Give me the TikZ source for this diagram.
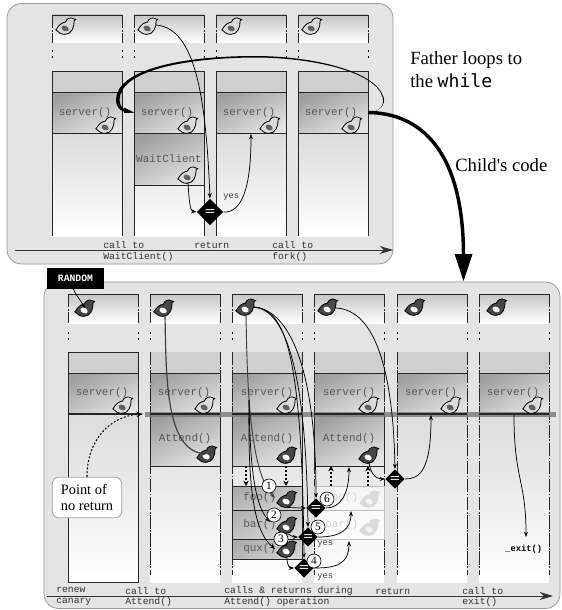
\documentclass[tikz,border=0pt]{standalone}
\usepackage{fontspec}
\setmainfont{Liberation Serif}
\setmonofont{Liberation Mono}
\newfontfamily\whilefont{DejaVu Sans Mono}
\usetikzlibrary{shapes.geometric,arrows.meta}
\definecolor{panelc}{HTML}{E4E4E4}
\tikzset{
  panel/.style={fill=panelc,draw=gray!80!white,line width=0.6pt,rounded corners=11pt},
  sideline/.style={draw=black!85,line width=0.6pt,dash pattern=on 10pt off 1.2pt on 1.2pt off 1.2pt},
  solidline/.style={draw=black!85,line width=0.6pt},
  dotline/.style={draw=black,line width=0.6pt,dash pattern=on 1.5pt off 3pt},
  topbox/.style={top color=gray!45,bottom color=white},
  lowgrad/.style={top color=gray!28,bottom color=white},
  band/.style={fill=gray!38},
  frameA/.style={top color=gray!75,bottom color=gray!22,shading angle=25},
  fn/.style={font=\ttfamily\fontsize{8.2}{9}\selectfont,text=black!65,inner sep=0pt},
  lab/.style={font=\ttfamily\fontsize{7.3}{8}\selectfont,text=black!80,inner sep=0pt,anchor=west},
  small/.style={font=\ttfamily\fontsize{6.6}{7}\selectfont,text=black!75,inner sep=0pt,anchor=west},
  big/.style={font=\fontsize{14}{16}\selectfont,inner sep=0pt,anchor=west},
  cond/.style={diamond,fill=black,text=white,inner sep=0pt,font=\sffamily\bfseries\fontsize{9}{9}\selectfont},
  numc/.style={circle,draw=black,fill=white,line width=0.5pt,inner sep=0pt,minimum size=10.5pt,font=\fontsize{8.5}{9}\selectfont},
  flow/.style={draw=black,line width=0.55pt,-{Stealth[length=4pt,width=3pt]}},
  flowdark/.style={draw=black!75,line width=0.9pt,-{Stealth[length=4pt,width=3pt]}},
  dotarrow/.style={draw=black,line width=1.4pt,dash pattern=on 1.6pt off 1.4pt,-{Stealth[length=4pt,width=4pt]}},
  timehead/.style={draw=black!80,line width=0.7pt,-{Stealth[length=10pt,width=6pt]}},
}
\newcommand\birdat[6]{%
  \coordinate (#1) at (#2,#3);
  \begin{scope}[shift={(#2,#3)},scale=1.12]
    \path[fill=#4,draw=#6,line width=0.6pt] (-9,3.5) .. controls (-6,-2) and (-3,-3) .. (-0.5,-3.5)
      .. controls (0.5,-7) and (4.5,-8) .. (6.5,-6.5) -- (8.6,-5.8) -- (7.2,-4.6)
      .. controls (7.5,1) and (5,7.5) .. (-1,7.5) .. controls (-4.5,7.5) and (-7,5.5) .. cycle;
    \path[fill=#5,rotate around={-25:(-0.8,2.2)}] (-0.8,2.2) ellipse (3.4 and 2.4);
  \end{scope}}
\newcommand\lbird[3]{\birdat{#1}{#2}{#3}{gray!28}{black!62}{black}}
\newcommand\dbird[3]{\birdat{#1}{#2}{#3}{black!72}{white}{black}}
\newcommand\gbird[3]{\birdat{#1}{#2}{#3}{gray!28}{gray!8}{gray!28}}
\begin{document}
\begin{tikzpicture}[x=0.75pt,y=-0.75pt]
\useasboundingbox (0,0) rectangle (561,610);
\fill[white] (0,0) rectangle (561,610);

% ---------- upper panel
\path[panel] (7,3.5) rectangle (393,264);
\foreach \x in {52,134,216,298}{
  \path[topbox] (\x,15) rectangle (\x+70,43);
  \draw[solidline] (\x,15) -- (\x+70,15);
  \draw[sideline] (\x,15) -- (\x,43);
  \draw[sideline] (\x+70,15) -- (\x+70,43);
  \draw[dotline] (\x,50) -- (\x,62);
  \draw[dotline] (\x+70,50) -- (\x+70,62);
  \path[lowgrad] (\x,133) rectangle (\x+70,236);
  \path[band] (\x,71) rectangle (\x+70,92);
  \path[frameA] (\x,92) rectangle (\x+70,133);
  \draw[solidline] (\x,92) -- (\x+70,92) (\x,133) -- (\x+70,133);
  \draw[solidline] (\x,71) -- (\x+70,71);
  \draw[solidline] (\x,71) -- (\x,236) (\x+70,71) -- (\x+70,236);
}
\path[frameA,draw=black!85,line width=0.6pt] (134,133) rectangle (204,185);
\node[fn] (su1) at (85,113) {server()};
\node[fn] (su2) at (167,113) {server()};
\node[fn] (su3) at (249,113) {server()};
\node[fn] (su4) at (331,113) {server()};
\node[fn] (wc) at (169,159) {WaitClient};
\lbird{ut1}{66}{26}\lbird{ut2}{148}{26}\lbird{ut3}{232}{26}\lbird{ut4}{312}{26}
\lbird{us1}{106}{125}\lbird{us2}{188}{125}\lbird{us3}{270}{125}\lbird{us4}{352}{125}
\lbird{uw}{188}{175}
\node[cond,minimum width=20pt,minimum height=20pt] (du) at (210,212) {=};
\coordinate (retu) at (251,134);
\draw[flow] (156,25) .. controls (196,28) and (206,100) .. (du.north);
\draw[flow] (188,182) .. controls (189,200) and (190,211) .. (du.west);
\draw[flow] (du.east) .. controls (241,213) and (251,190) .. (retu);
\node[small] (yu) at (223,197) {yes};
% time axis upper
\coordinate (ta0) at (15,250);
\coordinate (ta1) at (393,250);
\draw[timehead] (ta0) -- (ta1);
\node[lab] (u1) at (103,245) {call to};
\node[lab] (u2) at (103,257) {WaitClient()};
\node[lab] (u3) at (194,245) {return};
\node[lab] (u4) at (272,245) {call to};
\node[lab] (u5) at (272,257) {fork()};

% ---------- lower panel
\path[panel] (44,282) rectangle (560,608.5);
\node[fill=black,text=white,font=\ttfamily\bfseries\fontsize{7.3}{8}\selectfont,minimum width=42.5pt,minimum height=15.5pt,inner sep=0pt] (rnd) at (75.5,278.5) {RANDOM};
\foreach \x in {68,150,232,314,397,479}{
  \path[topbox] (\x,294) rectangle (\x+70,323);
  \draw[solidline] (\x,294) -- (\x+70,294);
  \draw[sideline] (\x,294) -- (\x,323);
  \draw[sideline] (\x+70,294) -- (\x+70,323);
  \draw[dotline] (\x,332) -- (\x,343);
  \draw[dotline] (\x+70,332) -- (\x+70,343);
  \path[lowgrad] (\x,414) rectangle (\x+70,582);
  \path[band] (\x,352) rectangle (\x+70,373);
  \path[frameA] (\x,373) rectangle (\x+70,414);
  \draw[solidline] (\x,373) -- (\x+70,373);
  \draw[sideline] (\x,352) -- (\x,575);
  \draw[sideline] (\x+70,352) -- (\x+70,575);
}
% first column has a full outline
\draw[solidline] (68,352) rectangle (138,582);
\draw[solidline] (68,373) -- (138,373);
% frames
\foreach \x in {150,232,314}{
  \path[frameA,draw=black!85,line width=0.6pt] (\x,414) rectangle (\x+70,466);
}
\path[top color=gray!65,bottom color=gray!35,shading angle=25,draw=black!85,line width=0.6pt] (232,486) rectangle (302,510);
\path[top color=gray!60,bottom color=gray!30,shading angle=25,draw=black!85,line width=0.6pt] (232,510) rectangle (302,539);
\path[top color=gray!65,bottom color=gray!35,shading angle=25,draw=black!85,line width=0.6pt] (232,539) rectangle (302,559);
\path[fill=white,fill opacity=0.55,draw=gray!50,line width=0.5pt] (314,486) rectangle (384,510);
\path[fill=white,fill opacity=0.7,draw=gray!50,line width=0.5pt] (314,510) rectangle (384,539);
% bar of no return
\fill[black!50,fill opacity=0.85] (145,412) rectangle (556,417);
\foreach \x in {68,150,232,314,397,479}{
  \draw[draw=black!85,line width=1.1pt] (\x,414) -- (\x+70,414);
}
\node[fn] (sl1) at (102,393) {server()};
\node[fn] (sl2) at (184,393) {server()};
\node[fn] (sl3) at (267,393) {server()};
\node[fn] (sl4) at (349,393) {server()};
\node[fn] (sl5) at (431,393) {server()};
\node[fn] (sl6) at (513,393) {server()};
\node[fn] (at2) at (185,439) {Attend()};
\node[fn] (at3) at (267,439) {Attend()};
\node[fn] (at4) at (349,439) {Attend()};
\node[fn,anchor=west] (foo) at (243,498) {foo()};
\node[fn,anchor=west] (bar) at (243,525) {bar()};
\node[fn,anchor=west] (qux) at (243,549) {qux()};
\node[fn,anchor=west,text=black!18] (foog) at (325,498) {foo()};
\node[fn,anchor=west,text=black!18] (barg) at (325,525) {bar()};
% birds
\dbird{lt1}{85}{308}\dbird{lt2}{164}{308}\dbird{lt3}{246}{307}\dbird{lt4}{328}{307}\dbird{lt5}{415}{307}\dbird{lt6}{497}{307}
\lbird{ls1}{123}{405}\lbird{ls2}{205}{405}\lbird{ls3}{287}{405}\lbird{ls4}{369}{405}\lbird{ls5}{451}{405}\lbird{ls6}{533}{405}
\dbird{la2}{207}{454}\dbird{la3}{287}{455}\dbird{la4}{369}{455}
\dbird{lf}{287}{499}\dbird{lb}{287}{525}\dbird{lq}{287}{549}
\gbird{gf}{370}{499}\gbird{gb}{370}{527}
% dotted
\coordinate (da1) at (246,466);\coordinate (da2) at (246,486);
\coordinate (db1) at (286,466);\coordinate (db2) at (286,486);
\coordinate (dc1) at (331,486);\coordinate (dc2) at (331,466);
\coordinate (dd1) at (368,486);\coordinate (dd2) at (368,466);
\draw[dotarrow] (da1) -- (da2);
\draw[dotarrow] (db1) -- (db2);
\draw[dotarrow] (dc1) -- (dc2);
\draw[dotarrow] (dd1) -- (dd2);
% decision nodes
\node[cond,minimum width=14.5pt,minimum height=14.5pt] (d6) at (316,508) {=};
\node[cond,minimum width=14.5pt,minimum height=14.5pt] (d5) at (308,537) {=};
\node[cond,minimum width=14.5pt,minimum height=14.5pt] (d4) at (304,568) {=};
\node[cond,minimum width=14.5pt,minimum height=14.5pt] (d7) at (395,479) {=};
% flows
\draw[flow] (rnd.south) ++(-2,0) .. controls (77,297) and (79,298) .. (lt1);
\draw[flowdark] (165,313) .. controls (166,380) and (166,450) .. (la2);
\coordinate (ls6a) at (514,415);\coordinate (ex) at (526,537);
\draw[flow] (ls6a) .. controls (514,480) and (526,480) .. (ex);
\draw[flowdark,line width=0.7pt] (246,313) .. controls (247,370) and (248,470) .. (275,498);
\draw[flow] (249,400) .. controls (250,470) and (255,505) .. (270,522);
\draw[flow] (249,400) .. controls (248,480) and (252,530) .. (275,549);
\draw[flow] (254,307) .. controls (285,310) and (302,350) .. (d4.north);
\draw[flow] (254,307) .. controls (283,310) and (306,360) .. (d5.north);
\draw[flow] (254,307) .. controls (290,310) and (316,370) .. (d6.north);
\draw[flow] (336,308) .. controls (375,310) and (393,370) .. (d7.north);
\draw[flow] (lf) ++(0,9) .. controls (287,507) and (295,508) .. (d6.west);
\draw[flow] (lb) ++(0,9) .. controls (288,533) and (292,537) .. (d5.west);
\draw[flow] (lq) ++(0,9) .. controls (287,566) and (290,568) .. (d4.west);
\coordinate (r6) at (349,467);\coordinate (r5) at (351,511);\coordinate (r4) at (349,541);\coordinate (r7) at (431,415);
\draw[flow] (d6.east) .. controls (340,508) and (349,495) .. (r6);
\draw[flow] (d5.east) .. controls (340,537) and (351,530) .. (r5);
\draw[flow] (d4.east) .. controls (335,568) and (349,565) .. (r4);
\draw[flow] (d7.east) .. controls (420,479) and (431,470) .. (r7);
\draw[flow] (369,462) .. controls (370,472) and (375,479) .. (d7.west);
\node[small] (y5) at (317,544) {yes};
\node[small] (y4) at (317,577) {yes};
\node[numc] (n1) at (269,486) {1};
\node[numc] (n2) at (274,515) {2};
\node[numc] (n3) at (281,539) {3};
\node[numc] (n4) at (314,561) {4};
\node[numc] (n5) at (318,527) {5};
\node[numc] (n6) at (327,499) {6};
% point of no return
\node[draw=gray!70,fill=white,rounded corners=5pt,line width=0.6pt,minimum width=52pt,minimum height=30.5pt,align=left,inner sep=0pt,font=\fontsize{10.8}{12.4}\selectfont] (pnr) at (87,497.5) {Point of\\no return};
\coordinate (pnrend) at (143,414);
\draw[draw=black,line width=0.8pt,dash pattern=on 1.4pt off 1.4pt,-{Stealth[length=5pt,width=4pt]}] (pnr.north) .. controls (87,440) and (110,416) .. (pnrend);
\node[font=\ttfamily\bfseries\fontsize{6.6}{7}\selectfont,text=black,inner sep=0pt,anchor=west] (ex2) at (505,549) {\_exit()};
% time axis lower
\coordinate (tb0) at (47,596);
\coordinate (tb1) at (553,596);
\draw[timehead] (tb0) -- (tb1);
\node[lab] (l1) at (56,590) {renew};
\node[lab] (l2) at (56,602) {canary};
\node[lab] (l3) at (125,591) {call to};
\node[lab] (l4) at (125,602) {Attend()};
\node[lab] (l5) at (224,591) {calls \& returns during};
\node[lab] (l6) at (224,602) {Attend() operation};
\node[lab] (l7) at (375,591) {return};
\node[lab] (l8) at (462,591) {call to};
\node[lab] (l9) at (462,602) {exit()};

% ---------- big arrows
\coordinate (fork) at (368,112.5);
\coordinate (loopend) at (134,112.5);
\fill[black] (fork) .. controls (380,112) and (386,104) .. (383.5,97)
  .. controls (375,70) and (310,56) .. (255,56)
  .. controls (180,56) and (116,70) .. (116,100)
  .. controls (116,108) and (122,114) .. (loopend)
  -- (loopend) .. controls (124,111) and (119.5,107) .. (119.5,100)
  .. controls (119.5,72) and (180,58) .. (255,57.5)
  .. controls (310,57.5) and (375,71) .. (382.5,97)
  .. controls (385,105) and (380,112) .. (fork) -- cycle;
\fill[black] (loopend) -- (124,107.5) -- (124,113) -- cycle;
\coordinate (kid) at (463.5,254);
\draw[line width=2.6pt] (fork) .. controls (420,113) and (463,150) .. (kid);
\fill[black] (454.5,254) -- (472.5,254) -- (463.5,281) -- cycle;
\node[big] (fa) at (410,60) {Father loops to};
\node[big] (fb) at (410,81) {the \whilefont\fontsize{13.6}{16}\selectfont while};
\node[big] (ch) at (455,165) {Child\textquotesingle s code};
\end{tikzpicture}
\end{document}
